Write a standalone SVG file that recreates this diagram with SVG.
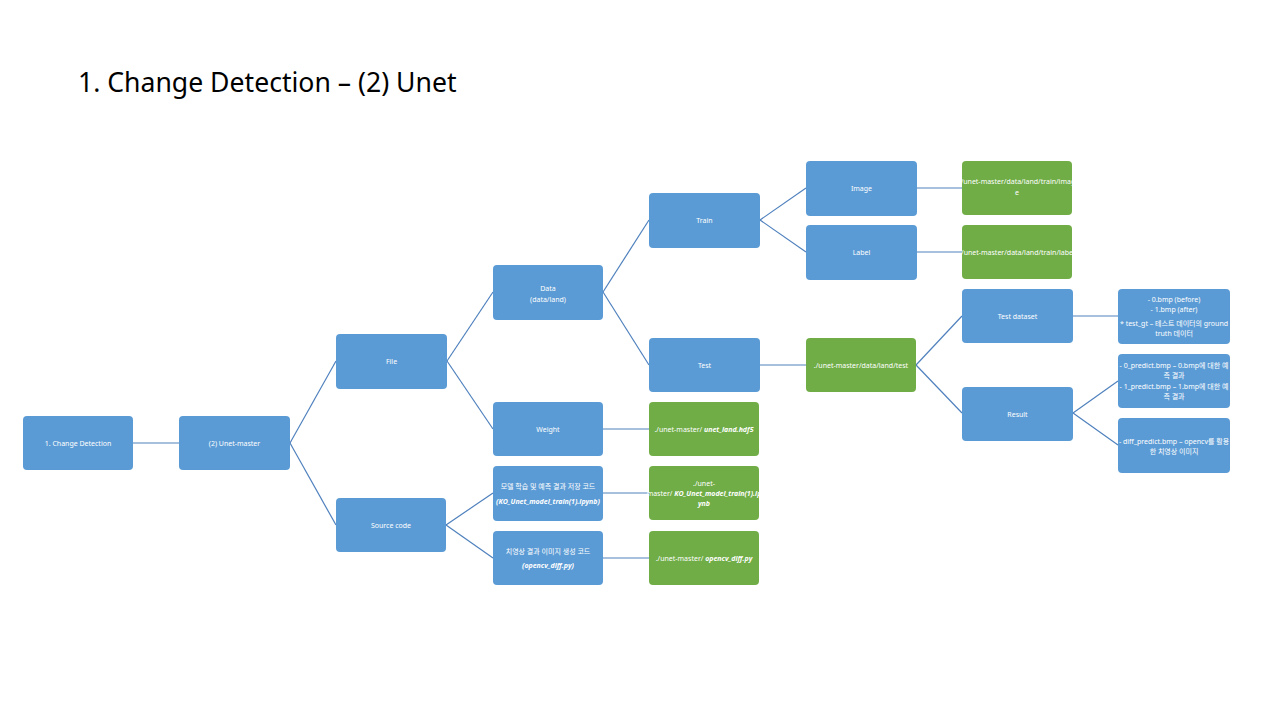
<svg xmlns="http://www.w3.org/2000/svg" width="1280" height="720" viewBox="0 0 1280 720">
<style>
.b{fill:#5b9bd5}
.g{fill:#70ad47}
.t{font-family:"Noto Sans","Noto Sans CJK KR",sans-serif;font-size:7px;fill:#ffffff;text-anchor:middle;dominant-baseline:central}
.bi{font-weight:bold;font-style:italic}
.c line{stroke:#4f81bd;stroke-width:1.2}
.title{font-family:"Noto Sans","Noto Sans CJK KR",sans-serif;font-size:26.6px;fill:#000000}
</style>
<rect width="1280" height="720" fill="#ffffff"/>
<text class="title" x="78" y="92">1. Change Detection – (2) Unet</text>
<g class="c" id="connectors">
<line x1="133" y1="443" x2="179" y2="443"/>
<line x1="290" y1="443" x2="336" y2="361"/>
<line x1="290" y1="443" x2="336" y2="525"/>
<line x1="447" y1="361" x2="493" y2="292"/>
<line x1="447" y1="361" x2="493" y2="429"/>
<line x1="446" y1="525" x2="493" y2="493"/>
<line x1="446" y1="525" x2="493" y2="558"/>
<line x1="603" y1="292" x2="649" y2="220"/>
<line x1="603" y1="292" x2="649" y2="365"/>
<line x1="603" y1="429" x2="649" y2="429"/>
<line x1="603" y1="493" x2="649" y2="493"/>
<line x1="603" y1="558" x2="649" y2="558"/>
<line x1="760" y1="220" x2="806" y2="188"/>
<line x1="760" y1="220" x2="806" y2="252"/>
<line x1="760" y1="365" x2="806" y2="365"/>
<line x1="917" y1="188" x2="962" y2="188"/>
<line x1="917" y1="252" x2="962" y2="252"/>
<line x1="916" y1="365" x2="962" y2="316"/>
<line x1="916" y1="365" x2="962" y2="413"/>
<line x1="1073" y1="316" x2="1118" y2="316"/>
<line x1="1073" y1="413" x2="1118" y2="381"/>
<line x1="1073" y1="413" x2="1118" y2="445"/>
</g>
<g id="n-cd"><rect class="b" x="23" y="416" width="110" height="54" rx="4"/><text class="t" x="78" y="443">1. Change Detection</text></g>
<g id="n-unet"><rect class="b" x="179" y="416" width="111" height="54" rx="4"/><text class="t" x="234.5" y="443">(2) Unet-master</text></g>
<g id="n-file"><rect class="b" x="336" y="334" width="111" height="55" rx="4"/><text class="t" x="391.5" y="361">File</text></g>
<g id="n-src"><rect class="b" x="336" y="498" width="110" height="54" rx="4"/><text class="t" x="391" y="525">Source code</text></g>
<g id="n-data"><rect class="b" x="493" y="265" width="110" height="55" rx="4"/><text class="t" x="548" y="288">Data</text><text class="t" x="548" y="299">(data/land)</text></g>
<g id="n-weight"><rect class="b" x="493" y="402" width="110" height="54" rx="4"/><text class="t" x="548" y="429">Weight</text></g>
<g id="n-train-code"><rect class="b" x="493" y="466" width="110" height="55" rx="4"/><text class="t" x="548" y="486">모델 학습 및 예측 결과  저장 코드</text><text class="t bi" x="548" y="501">(KO_Unet_model_train(1).ipynb)</text></g>
<g id="n-diff-code"><rect class="b" x="493" y="531" width="110" height="54" rx="4"/><text class="t" x="548" y="551">치영상 결과 이미지 생성 코드</text><text class="t bi" x="548" y="565">(opencv_diff.py)</text></g>
<g id="n-train"><rect class="b" x="649" y="193" width="111" height="55" rx="4"/><text class="t" x="704.5" y="220">Train</text></g>
<g id="n-test"><rect class="b" x="649" y="338" width="111" height="54" rx="4"/><text class="t" x="704.5" y="365">Test</text></g>
<g id="n-weight-path"><rect class="g" x="649" y="402" width="110" height="54" rx="4"/><text class="t" x="704" y="429">./unet-master/ <tspan class="bi">unet_land.hdf5</tspan></text></g>
<g id="n-train-path"><rect class="g" x="649" y="466" width="110" height="54" rx="4"/><text class="t" x="704" y="483">./unet-</text><text class="t" x="704" y="493">master/ <tspan class="bi">KO_Unet_model_train(1).ip</tspan></text><text class="t bi" x="704" y="503">ynb</text></g>
<g id="n-diff-path"><rect class="g" x="649" y="531" width="110" height="54" rx="4"/><text class="t" x="704" y="558">./unet-master/ <tspan class="bi">opencv_diff.py</tspan></text></g>
<g id="n-image"><rect class="b" x="806" y="161" width="111" height="55" rx="4"/><text class="t" x="861.5" y="188">Image</text></g>
<g id="n-label"><rect class="b" x="806" y="225" width="111" height="55" rx="4"/><text class="t" x="861.5" y="252">Label</text></g>
<g id="n-test-path"><rect class="g" x="806" y="338" width="110" height="54" rx="4"/><text class="t" x="861" y="365">./unet-master/data/land/test</text></g>
<g id="n-image-path"><rect class="g" x="962" y="161" width="110" height="54" rx="4"/><text class="t" x="1017" y="181">./unet-master/data/land/train/imag</text><text class="t" x="1017" y="192">e</text></g>
<g id="n-label-path"><rect class="g" x="962" y="225" width="110" height="54" rx="4"/><text class="t" x="1017" y="252">./unet-master/data/land/train/label</text></g>
<g id="n-testset"><rect class="b" x="962" y="289" width="111" height="54" rx="4"/><text class="t" x="1017.5" y="316">Test dataset</text></g>
<g id="n-result"><rect class="b" x="962" y="387" width="111" height="54" rx="4"/><text class="t" x="1017.5" y="414">Result</text></g>
<g id="n-testset-desc"><rect class="b" x="1118" y="289" width="112" height="55" rx="4"/><text class="t" x="1174" y="299">- 0.bmp (before)</text><text class="t" x="1174" y="309">- 1.bmp (after)</text><text class="t" x="1174" y="323">* test_gt – 테스트 데이터의 ground</text><text class="t" x="1174" y="333">truth 데이터</text></g>
<g id="n-result-desc1"><rect class="b" x="1118" y="354" width="112" height="54" rx="4"/><text class="t" x="1174" y="365">- 0_predict.bmp – 0.bmp에 대한 예</text><text class="t" x="1174" y="375">측 결과</text><text class="t" x="1174" y="386">- 1_predict.bmp – 1.bmp에 대한 예</text><text class="t" x="1174" y="396">측 결과</text></g>
<g id="n-result-desc2"><rect class="b" x="1118" y="418" width="112" height="55" rx="4"/><text class="t" x="1174" y="441">- diff_predict.bmp – opencv를 활용</text><text class="t" x="1174" y="451">한 치영상 이미지</text></g>
</svg>
